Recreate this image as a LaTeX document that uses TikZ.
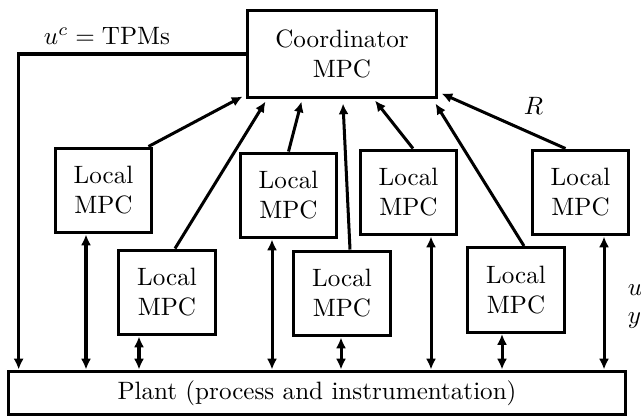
\documentclass[tikz,border=0pt]{standalone}
\usepackage{amsmath}
\usepackage{tikz}
\usetikzlibrary{calc,positioning,arrows.meta}

\begin{document}
\begin{tikzpicture}[x=0.014cm,y=-0.014cm,line width=1.2pt,
    loc/.style={draw,align=center,minimum width=1.358cm,minimum height=1.19cm,inner sep=0pt},
    io/.style={{Latex[length=4.3pt,width=4pt]}-{Latex[length=4.3pt,width=4pt]}},
    up/.style={-{Latex[length=4.3pt,width=4pt]}}]
            \useasboundingbox (0,0) rectangle (641,417);

            \node[draw,align=center,minimum width=2.66cm,minimum height=1.232cm] (co) at (342,54) {Coordinator\\MPC};
            \node[draw,minimum width=8.652cm,minimum height=0.616cm] (pl) at (317,393) {Plant (process and instrumentation)};

            \node[loc] (l1) at (103.5,190.5) {Local\\MPC};
            \node[loc] (l3) at (288.5,195.5) {Local\\MPC};
            \node[loc] (l5) at (408.5,192.5) {Local\\MPC};
            \node[loc] (l7) at (580.5,192.5) {Local\\MPC};

            \node[loc] (l2) at (167,292.5) {Local\\MPC};
            \node[loc] (l4) at (342,293.5) {Local\\MPC};
            \node[loc] (l6) at (516,290)   {Local\\MPC};

            % to the coordinator
            \draw[up] ($(l1.north east)+(-5,0)$) -- ($(co.south west)+(-3,-3)$);
            \draw[up] ($(l2.north)+(8,0)$)       -- ($(co.south west)+(20,2)$);
            \draw[up] (l3.north)                 -- ($(co.south west)+(56,2)$);
            \draw[up] ($(l4.north)+(8,0)$)       -- ($(co.south)+(1,4)$);
            \draw[up] ($(l5.north)+(4.5,0)$)     -- ($(co.south)+(33,1)$);
            \draw[up] ($(l6.north)+(8,0)$)       -- ($(co.south east)+(-3,4)$);
            \draw[up] ($(l7.north)+(-15,0)$)     -- node[inner sep=0pt,above right=2pt and 7.5pt] {$R$} ($(co.south east)+(3,-6)$);

            % tpms to plant
            \draw[up] (co.west) -| ($(pl.north west)+(12,0)$);
            \node at (107,36) {$u^c=\mathrm{TPMs}$};

            % local to plant
            \coordinate (b1) at ($(l1.south)+(-17.5,0)$);
            \coordinate (b2) at ($(l2.south)+(-28,0)$);
            \coordinate (b3) at ($(l3.south)+(-16.5,0)$);
            \coordinate (b4) at ($(l4.south)+(-1,0)$);
            \coordinate (b5) at ($(l5.south)+(22.5,0)$);
            \coordinate (b6) at ($(l6.south)+(-14,0)$);
            \coordinate (b7) at ($(l7.south)+(23.5,0)$);
            \foreach \b in {b1,b2,b3,b4,b5,b6,b7}
                \draw[io] (\b) -- (\b |- pl.north);

            \node[align=left,anchor=west] (uy) at (618,301) {$u^l$\\[-1pt]$y^l$};
        \end{tikzpicture}
\end{document}
